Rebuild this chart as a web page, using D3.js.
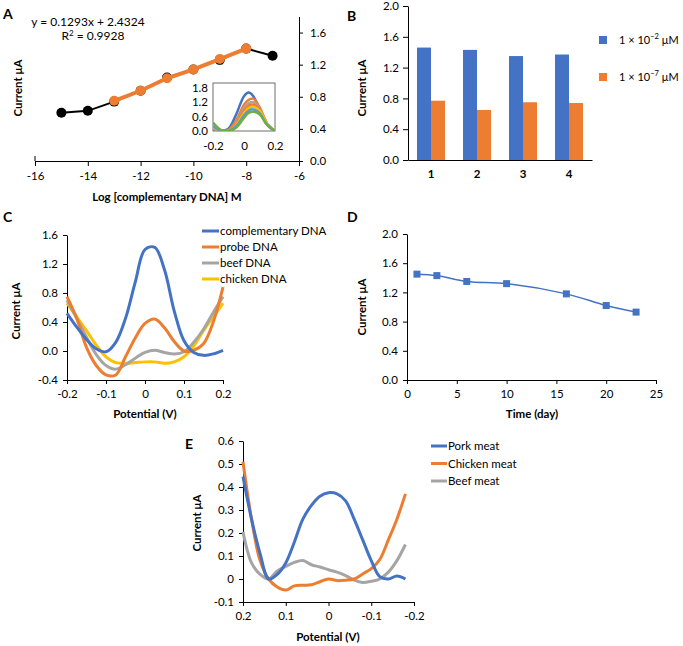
<!DOCTYPE html>
<html><head><meta charset="utf-8">
<script src="https://cdn.jsdelivr.net/npm/d3@7"></script>
<style>body{margin:0;background:#fff}</style>
</head><body>
<script>
// ---------- DATA ----------
const aLogConc = [-15,-14,-13,-12,-11,-10,-9,-8,-7];
const aCurrent = [0.60,0.625,0.74,0.875,1.04,1.14,1.26,1.40,1.31];
const aError   = [0.035,0.02,0.02,0,0.03,0,0.05,0.02,0];
const aLinearConc = [-13,-12,-11,-10,-9,-8];
const aLinearCurrent = [0.75,0.875,1.03,1.14,1.27,1.40];
const aEquation = "y = 0.1293x + 2.4324";
const aR2 = "0.9928";

const insetPotential = [-0.2,-0.15,-0.1,-0.05,0,0.03,0.06,0.1,0.15,0.2];
const inset1 = [0.1,0.0,0.1,0.7,1.45,1.6,1.45,0.9,0.25,0.0];
const inset2 = [0.1,0.0,0.05,0.45,1.1,1.3,1.35,1.0,0.3,0.0];
const inset3 = [0.15,0.0,0.0,0.35,0.95,1.15,1.2,0.95,0.3,0.0];
const inset4 = [0.15,0.0,0.0,0.3,0.85,1.05,1.1,0.9,0.3,0.0];
const inset5 = [0.15,0.0,0.0,0.25,0.75,0.95,1.0,0.85,0.3,0.0];
const inset6 = [0.2,0.0,0.0,0.2,0.65,0.85,0.9,0.75,0.25,0.0];
const inset7 = [0.35,0.05,0.0,0.15,0.55,0.75,0.8,0.7,0.25,0.0];

const bCategories = ["1","2","3","4"];
const bHigh = [1.46,1.43,1.35,1.37];
const bLow  = [0.77,0.65,0.75,0.74];

const cPotential = [-0.2,-0.175,-0.15,-0.125,-0.1,-0.075,-0.05,-0.025,0,0.025,0.05,0.075,0.1,0.125,0.15,0.175,0.2];
const cComplementary = [0.52,0.33,0.16,0.03,-0.01,0.12,0.45,0.95,1.40,1.43,1.12,0.55,0.14,-0.02,-0.06,-0.04,0.01];
const cProbe   = [0.75,0.45,0.05,-0.2,-0.33,-0.33,-0.08,0.18,0.38,0.44,0.32,0.13,0.0,0.01,0.1,0.4,0.88];
const cBeef    = [0.70,0.45,0.19,-0.05,-0.2,-0.25,-0.19,-0.1,-0.02,0.01,-0.02,-0.04,-0.01,0.12,0.3,0.53,0.75];
const cChicken = [0.66,0.47,0.28,0.08,-0.08,-0.16,-0.17,-0.16,-0.15,-0.15,-0.17,-0.15,-0.08,0.07,0.28,0.47,0.66];

const dDays = [1,3,6,10,16,20,23];
const dCurrent = [1.45,1.43,1.35,1.32,1.18,1.02,0.93];

const ePotential = [0.2,0.18,0.16,0.14,0.12,0.1,0.08,0.06,0.04,0.02,0,-0.02,-0.04,-0.06,-0.08,-0.1,-0.12,-0.14,-0.16,-0.18];
const ePork    = [0.445,0.26,0.11,0.0,0.02,0.07,0.16,0.26,0.32,0.36,0.375,0.37,0.34,0.26,0.17,0.08,0.01,0.0,0.013,0.0];
const eChicken = [0.51,0.26,0.08,0.0,-0.035,-0.048,-0.03,-0.027,-0.025,-0.012,0.0,-0.007,-0.005,0.0,0.022,0.045,0.085,0.17,0.26,0.37];
const eBeef    = [0.205,0.07,0.02,0.0,0.035,0.055,0.072,0.08,0.062,0.052,0.04,0.03,0.015,-0.005,-0.015,-0.01,0.0,0.03,0.08,0.15];

// ---------- STYLE ----------
const FONT = "Lato, 'Open Sans', sans-serif";
const BLUE="#4472C4", ORANGE="#ED7D31", GRAY="#A5A5A5", YELLOW="#FFC000", GREEN="#70AD47", LBLUE="#5B9BD5";

const svg = d3.select("body").append("svg").attr("width",683).attr("height",646)
  .attr("font-family",FONT);

function styleAxis(g, size){
  g.attr("font-family",FONT).attr("font-size",size||11.5);
  g.selectAll("text").attr("fill","#000");
  g.selectAll("line").attr("stroke","#000");
  g.select(".domain").attr("stroke","#000");
  return g;
}
const fmt1 = d => d.toFixed(1);
const fmtE = d => String(+d.toFixed(1));

function panelLabel(t,x,y){
  svg.append("text").attr("x",x).attr("y",y).attr("font-size",14).attr("font-weight","bold").text(t);
}
function yTitle(t,x,y){
  svg.append("text").attr("transform",`translate(${x},${y}) rotate(-90)`).attr("text-anchor","middle")
    .attr("font-size",11.5).attr("font-weight","bold").text(t);
}
function xTitle(t,x,y){
  svg.append("text").attr("x",x).attr("y",y).attr("text-anchor","middle")
    .attr("font-size",11.5).attr("font-weight","bold").text(t);
}

// ---------- PANEL A ----------
{
  const x = d3.scaleLinear([-16,-6],[35,299]);
  const y = d3.scaleLinear([0,1.8],[161,16.5]);
  const gx = svg.append("g").attr("transform","translate(0,161)")
    .call(d3.axisBottom(x).tickValues([-16,-14,-12,-10,-8,-6]).tickFormat(d=>String(d)).tickSize(5).tickSizeOuter(0).tickPadding(6));
  styleAxis(gx);
  const gy = svg.append("g").attr("transform","translate(299,0)")
    .call(d3.axisRight(y).tickValues([0,0.4,0.8,1.2,1.6]).tickFormat(fmt1).tickSize(4).tickSizeOuter(0).tickPadding(7));
  styleAxis(gy);
  svg.append("line").attr("x1",35).attr("x2",35).attr("y1",156).attr("y2",161).attr("stroke","#000");

  const pts = aLogConc.map((c,i)=>({c, v:aCurrent[i], e:aError[i]}));
  const line = d3.line().x(d=>x(d.c)).y(d=>y(d.v));
  svg.append("path").datum(pts).attr("d",line).attr("fill","none").attr("stroke","#000").attr("stroke-width",2);
  const eb = svg.append("g").attr("stroke","#555").attr("stroke-width",1);
  pts.filter(d=>d.e>0).forEach(d=>{
    eb.append("line").attr("x1",x(d.c)).attr("x2",x(d.c)).attr("y1",y(d.v-d.e)).attr("y2",y(d.v+d.e));
    eb.append("line").attr("x1",x(d.c)-3).attr("x2",x(d.c)+3).attr("y1",y(d.v-d.e)).attr("y2",y(d.v-d.e));
    eb.append("line").attr("x1",x(d.c)-3).attr("x2",x(d.c)+3).attr("y1",y(d.v+d.e)).attr("y2",y(d.v+d.e));
  });
  svg.append("g").selectAll("circle").data(pts).join("circle")
    .attr("cx",d=>x(d.c)).attr("cy",d=>y(d.v)).attr("r",5).attr("fill","#000");
  const lin = aLinearConc.map((c,i)=>({c, v:aLinearCurrent[i]}));
  svg.append("path").datum(lin).attr("d",line).attr("fill","none").attr("stroke",ORANGE).attr("stroke-width",4);
  svg.append("g").selectAll("circle").data(lin).join("circle")
    .attr("cx",d=>x(d.c)).attr("cy",d=>y(d.v)).attr("r",5).attr("fill",ORANGE);

  svg.append("text").attr("x",88).attr("y",26).attr("text-anchor","middle").attr("font-size",12).text(aEquation);
  const r = svg.append("text").attr("x",93).attr("y",40).attr("text-anchor","middle").attr("font-size",12);
  r.append("tspan").text("R");
  r.append("tspan").attr("font-size",8).attr("dy",-4).text("2");
  r.append("tspan").attr("dy",4).text(" = "+aR2);

  yTitle("Current μA",22,88);
  xTitle("Log [complementary DNA] M",167,201);
  panelLabel("A",3,19);

  // inset
  const ix = d3.scaleLinear([-0.2,0.2],[213,275]);
  const iy = d3.scaleLinear([0,2.0],[131,83]);
  svg.append("rect").attr("x",213).attr("y",83).attr("width",62).attr("height",48).attr("fill","#fff").attr("stroke","#6e6e6e");
  svg.append("clipPath").attr("id","insetclip").append("rect").attr("x",213).attr("y",83).attr("width",62).attr("height",48);
  const icurves = [[inset7,GREEN],[inset6,LBLUE],[inset5,YELLOW],[inset4,ORANGE],[inset3,GRAY],[inset2,ORANGE],[inset1,BLUE]];
  const iline = d3.line().curve(d3.curveCatmullRom).x((d,i)=>ix(insetPotential[i])).y(d=>iy(d));
  const ig = svg.append("g").attr("clip-path","url(#insetclip)");
  icurves.slice().reverse().forEach(([arr,col])=>{
    ig.append("path").datum(arr).attr("d",iline).attr("fill","none").attr("stroke",col).attr("stroke-width",2.5);
  });
  const igy = svg.append("g").attr("transform","translate(213,0)")
    .call(d3.axisLeft(iy).tickValues([0,0.6,1.2,1.8]).tickFormat(fmt1).tickSize(0).tickPadding(5));
  styleAxis(igy,11.5); igy.select(".domain").remove();
  const igx = svg.append("g").attr("transform","translate(0,131)")
    .call(d3.axisBottom(ix).tickValues([-0.2,0,0.2]).tickFormat(d=>d===0?"0":d.toFixed(1)).tickSize(0).tickPadding(11));
  styleAxis(igx,11.5); igx.select(".domain").remove();
}

// ---------- PANEL B ----------
{
  const x = d3.scaleBand(bCategories,[408,592]);
  const y = d3.scaleLinear([0,2.0],[160,6]);
  const gy = svg.append("g").attr("transform","translate(408,0)")
    .call(d3.axisLeft(y).tickValues([0,0.4,0.8,1.2,1.6,2.0]).tickFormat(fmt1).tickSize(5).tickSizeOuter(0).tickPadding(4));
  styleAxis(gy);
  const bw = 14;
  svg.append("g").selectAll("rect").data(bCategories).join("rect")
    .attr("x",d=>x(d)+x.bandwidth()/2-bw).attr("width",bw)
    .attr("y",(d,i)=>y(bHigh[i])).attr("height",(d,i)=>y(0)-y(bHigh[i])).attr("fill",BLUE);
  svg.append("g").selectAll("rect").data(bCategories).join("rect")
    .attr("x",d=>x(d)+x.bandwidth()/2).attr("width",bw)
    .attr("y",(d,i)=>y(bLow[i])).attr("height",(d,i)=>y(0)-y(bLow[i])).attr("fill",ORANGE);
  const gx = svg.append("g").attr("transform","translate(0,160)")
    .call(d3.axisBottom(x).tickSize(0).tickPadding(10));
  styleAxis(gx); gx.selectAll("text").attr("font-weight","bold");
  yTitle("Current μA",366,88);
  panelLabel("B",347,21);
  const leg = [[BLUE,"2"],[ORANGE,"7"]];
  leg.forEach(([c,e],i)=>{
    const yy = 40 + i*37;
    svg.append("rect").attr("x",599).attr("y",yy-4).attr("width",8).attr("height",8).attr("fill",c);
    const t = svg.append("text").attr("x",619).attr("y",yy+4).attr("font-size",11);
    t.append("tspan").text("1 × 10");
    t.append("tspan").attr("font-size",7.5).attr("dy",-5).text("−"+e);
    t.append("tspan").attr("dy",5).attr("dx",3).text("μM");
  });
}

// ---------- PANEL C ----------
{
  const x = d3.scaleLinear([-0.2,0.2],[67,223]);
  const y = d3.scaleLinear([-0.4,1.6],[380,235]);
  const gy = svg.append("g").attr("transform","translate(67,0)")
    .call(d3.axisLeft(y).tickValues([-0.4,0,0.4,0.8,1.2,1.6]).tickFormat(fmt1).tickSize(4).tickSizeOuter(0).tickPadding(5));
  styleAxis(gy);
  const gx = svg.append("g").attr("transform","translate(0,380)")
    .call(d3.axisBottom(x).tickValues([-0.2,-0.1,0,0.1,0.2]).tickFormat(fmtE).tickSize(4).tickSizeOuter(0).tickPadding(6));
  styleAxis(gx);
  const series = [["complementary DNA",cComplementary,BLUE],["probe DNA",cProbe,ORANGE],["beef DNA",cBeef,GRAY],["chicken DNA",cChicken,YELLOW]];
  const line = d3.line().curve(d3.curveCatmullRom).x((d,i)=>x(cPotential[i])).y(d=>y(d));
  [series[3],series[2],series[1],series[0]].forEach(([n,arr,c])=>{
    svg.append("path").datum(arr).attr("d",line).attr("fill","none").attr("stroke",c).attr("stroke-width",3);
  });
  series.forEach(([n,arr,c],i)=>{
    const yy = 231 + i*16;
    svg.append("line").attr("x1",202).attr("x2",219).attr("y1",yy).attr("y2",yy).attr("stroke",c).attr("stroke-width",3);
    svg.append("text").attr("x",220).attr("y",yy+4).attr("font-size",11.5).text(n);
  });
  yTitle("Current μA",20,311);
  xTitle("Potential (V)",145,418);
  panelLabel("C",3,222);
}

// ---------- PANEL D ----------
{
  const x = d3.scaleLinear([0,25],[407,656]);
  const y = d3.scaleLinear([0,2.0],[380,234]);
  const gy = svg.append("g").attr("transform","translate(407,0)")
    .call(d3.axisLeft(y).tickValues([0,0.4,0.8,1.2,1.6,2.0]).tickFormat(fmt1).tickSize(4).tickSizeOuter(0).tickPadding(5));
  styleAxis(gy);
  const gx = svg.append("g").attr("transform","translate(0,380)")
    .call(d3.axisBottom(x).tickValues([0,5,10,15,20,25]).tickFormat(d=>String(d)).tickSize(4).tickSizeOuter(0).tickPadding(6));
  styleAxis(gx);
  const pts = dDays.map((d,i)=>({d, v:dCurrent[i]}));
  svg.append("path").datum(pts).attr("d",d3.line().curve(d3.curveCatmullRom).x(p=>x(p.d)).y(p=>y(p.v)))
    .attr("fill","none").attr("stroke",BLUE).attr("stroke-width",1.5);
  svg.append("g").selectAll("rect").data(pts).join("rect")
    .attr("x",p=>x(p.d)-3.5).attr("y",p=>y(p.v)-3.5).attr("width",7).attr("height",7).attr("fill",BLUE);
  yTitle("Current μA",366,307);
  xTitle("Time (day)",532,418);
  panelLabel("D",347,222);
}

// ---------- PANEL E ----------
{
  const x = d3.scaleLinear([0.2,-0.2],[243,414]);
  const y = d3.scaleLinear([-0.1,0.6],[602,441]);
  const gy = svg.append("g").attr("transform","translate(243,0)")
    .call(d3.axisLeft(y).tickValues([-0.1,0,0.1,0.2,0.3,0.4,0.5,0.6]).tickFormat(fmtE).tickSize(4).tickSizeOuter(0).tickPadding(5));
  styleAxis(gy);
  const gx = svg.append("g").attr("transform","translate(0,602)")
    .call(d3.axisBottom(x).tickValues([0.2,0.1,0,-0.1,-0.2]).tickFormat(fmtE).tickSize(4).tickSizeOuter(0).tickPadding(6));
  styleAxis(gx);
  const series = [["Pork meat",ePork,BLUE],["Chicken meat",eChicken,ORANGE],["Beef meat",eBeef,GRAY]];
  const line = d3.line().curve(d3.curveCatmullRom).x((d,i)=>x(ePotential[i])).y(d=>y(d));
  [series[2],series[1],series[0]].forEach(([n,arr,c])=>{
    svg.append("path").datum(arr).attr("d",line).attr("fill","none").attr("stroke",c).attr("stroke-width",3);
  });
  series.forEach(([n,arr,c],i)=>{
    const yy = 446 + i*17.5;
    svg.append("line").attr("x1",431).attr("x2",447).attr("y1",yy).attr("y2",yy).attr("stroke",c).attr("stroke-width",3);
    svg.append("text").attr("x",448).attr("y",yy+4).attr("font-size",11.5).text(n);
  });
  yTitle("Current μA",201,523);
  xTitle("Potential (V)",328,641);
  panelLabel("E",185,449);
}
</script>
</body></html>
